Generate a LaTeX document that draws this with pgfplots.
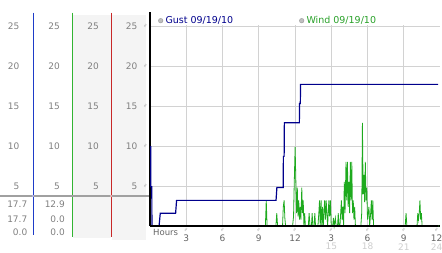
\documentclass[border=0pt]{standalone}
\usepackage{fontspec}
\setmainfont{DejaVu Sans}
\usepackage{pgfplots}
\pgfplotsset{compat=1.18}
\definecolor{gustc}{RGB}{0,0,140}
\definecolor{windc}{RGB}{30,170,30}
\definecolor{numc}{RGB}{128,128,128}
\definecolor{panelbg}{RGB}{244,244,244}
\definecolor{gridc}{RGB}{210,210,210}
\definecolor{sepc}{RGB}{160,160,160}
\definecolor{divblue}{RGB}{30,60,200}
\definecolor{divgreen}{RGB}{50,180,50}
\definecolor{divred}{RGB}{200,40,40}
\definecolor{tickc}{RGB}{100,100,100}
\definecolor{tick2c}{RGB}{205,205,205}
\definecolor{legtxtg}{RGB}{40,160,40}
\begin{document}
\begin{tikzpicture}[x=1pt,y=1pt,font=\fontsize{9}{10}\selectfont]
\useasboundingbox (0,0) rectangle (442,253);
% left panels
\fill[panelbg] (72.5,15) rectangle (110.5,238);
\fill[panelbg] (111.5,13) rectangle (146,238);
\draw[divblue, line width=1pt] (33,240.3) -- (33,18);
\draw[divgreen, line width=1pt] (72,240.3) -- (72,16);
\draw[divred, line width=1pt] (111,240.3) -- (111,16);
\draw[sepc, line width=2pt] (0,57) -- (150,57);
\fill[blue!30] (33,57) circle (1.2);
\fill[red!30] (111,57) circle (1.2);
\foreach \v in {5,10,15,20,25}{
  \pgfmathsetmacro{\yy}{227-8*(25-\v)}
  \node[anchor=east, inner sep=0pt, text=numc] at (19.5,\yy) {\v};
  \node[anchor=east, inner sep=0pt, text=numc] at (60,\yy) {\v};
  \node[anchor=east, inner sep=0pt, text=numc] at (99,\yy) {\v};
  \node[anchor=east, inner sep=0pt, text=numc] at (137.5,\yy) {\v};
  \node[inner sep=0pt, text=numc!70, font=\fontsize{5}{5}\selectfont, rotate=60] at (145.5,\yy) {≈};
}
\node[anchor=east, inner sep=0pt, text=numc] at (27.5,48.7) {17.7};
\node[anchor=east, inner sep=0pt, text=numc] at (27.5,34) {17.7};
\node[anchor=east, inner sep=0pt, text=numc] at (27.5,20.3) {0.0};
\node[anchor=east, inner sep=0pt, text=numc] at (65,48.7) {12.9};
\node[anchor=east, inner sep=0pt, text=numc] at (65,34) {0.0};
\node[anchor=east, inner sep=0pt, text=numc] at (65,20.3) {0.0};
\begin{axis}[at={(150pt,27pt)}, anchor=south west, scale only axis,
  width=290pt, height=213.6pt,
  xmin=0, xmax=24, ymin=0, ymax=26.7,
  axis x line=bottom, axis y line=left,
  axis line style={-, black, line width=1.2pt},
  ytick={5,10,15,20,25}, yticklabels={}, xtick=\empty,
  ymajorgrids, grid style={gridc, line width=0.8pt},
  major tick length=0pt, clip=false]
\pgfplotsinvokeforeach{3,6,9,12,15,18,21}{
  \draw[gridc, line width=0.8pt] (axis cs:#1,0) -- (axis cs:#1,25.15);
}
\addplot[windc, line width=0.8pt] coordinates {
(0,0) (9.55,0) (9.62,3.2) (9.69,0)
(10.42,0) (10.49,1.6) (10.56,0)
(10.97,0) (11.03,2.4) (11.10,3.2) (11.16,1.0) (11.22,0)
(11.80,0) (11.88,1.2) (11.94,5.5) (12.01,9.9) (12.07,5.7) (12.13,1.6) (12.19,4.8) (12.25,1.2) (12.31,3.2) (12.37,0.8) (12.43,2.4) (12.49,0.8) (12.56,4.8) (12.62,1.6) (12.68,3.2) (12.74,0) (12.80,1.6) (12.86,0)
(13.10,0) (13.17,1.6) (13.24,0) (13.36,0) (13.42,1.6) (13.48,0) (13.58,0) (13.64,1.6) (13.70,0)
(13.90,0) (13.97,1.6) (14.03,3.2) (14.09,0)
(14.16,3.2) (14.22,0) (14.28,2.4) (14.34,0) (14.45,3.2) (14.52,0.8) (14.58,3.2) (14.64,1.6) (14.70,0) (14.80,3.2) (14.86,1.2) (14.93,3.2) (15.00,0)
(15.12,0) (15.18,1.0) (15.24,0) (15.34,1.0) (15.40,0) (15.52,0) (15.58,1.6) (15.64,0)
(15.72,0) (15.78,1.6) (15.84,3.2) (15.90,0.8) (15.96,2.4) (16.02,0) (16.08,5.5) (16.14,1.6) (16.22,8.0) (16.28,3.2) (16.34,8.0) (16.40,2.4) (16.46,5.5) (16.52,1.6) (16.58,8.0) (16.64,3.2) (16.70,8.0) (16.76,1.6) (16.82,3.2) (16.88,0.8) (16.94,2.4) (17.00,0)
(17.45,0) (17.52,1.6) (17.58,12.9) (17.64,4.0) (17.70,6.4) (17.76,3.0) (17.82,8.0) (17.88,3.2) (17.94,4.8) (18.00,0.8) (18.06,1.6) (18.12,2.4) (18.18,0) (18.26,1.6) (18.32,3.2) (18.38,0.8) (18.44,3.2) (18.50,0)
(21.12,0) (21.19,1.6) (21.26,0)
(22.10,0) (22.16,1.6) (22.22,0.8) (22.28,1.6) (22.34,3.2) (22.40,0.8) (22.46,1.6) (22.52,0)
(23.9,0)
};
\addplot[gustc, line width=1.2pt] coordinates {
(0,9.9) (0.06,9.9) (0.07,4.9) (0.15,4.9) (0.16,0) (0.75,0) (0.85,1.6) (2.12,1.6) (2.2,3.2)
(10.43,3.2) (10.5,4.8) (11.02,4.8) (11.04,8.7) (11.1,8.7) (11.12,12.9)
(12.36,12.9) (12.38,15.3) (12.44,15.3) (12.46,17.7) (23.85,17.7)
};
\draw[black, line width=1.2pt] (axis cs:0,0) -- (axis cs:23.8,0);
\end{axis}
% legend
\filldraw[fill=gray!50, draw=gray!80, line width=0.4pt] (160.7,232.3) circle (2.3);
\node[anchor=west, inner sep=0pt, text=gustc, font=\fontsize{9.5}{10}\selectfont] at (165.3,232.3) {Gust 09/19/10};
\filldraw[fill=gray!50, draw=gray!80, line width=0.4pt] (301.7,232.3) circle (2.3);
\node[anchor=west, inner sep=0pt, text=legtxtg, font=\fontsize{9.5}{10}\selectfont] at (306.3,232.3) {Wind 09/19/10};
% x axis labels
\node[anchor=west, inner sep=0pt, text=tickc, font=\fontsize{8.5}{10}\selectfont] at (153,20.8) {Hours};
\foreach \xx/\la/\lb in {186.25/3/, 222.5/6/, 258.75/9/, 295/12/, 331.25/3/15, 367.5/6/18, 403.75/9/21, 436.5/12/24}{
  \node[inner sep=0pt, text=numc!70, font=\fontsize{5}{5}\selectfont, rotate=60] at (\xx,23.4) {≈};
  \node[inner sep=0pt, text=tickc] at (\xx,14.5) {\la};
  \node[inner sep=0pt, text=tick2c] at (\xx,6.3) {\lb};
}
\end{tikzpicture}
\end{document}
